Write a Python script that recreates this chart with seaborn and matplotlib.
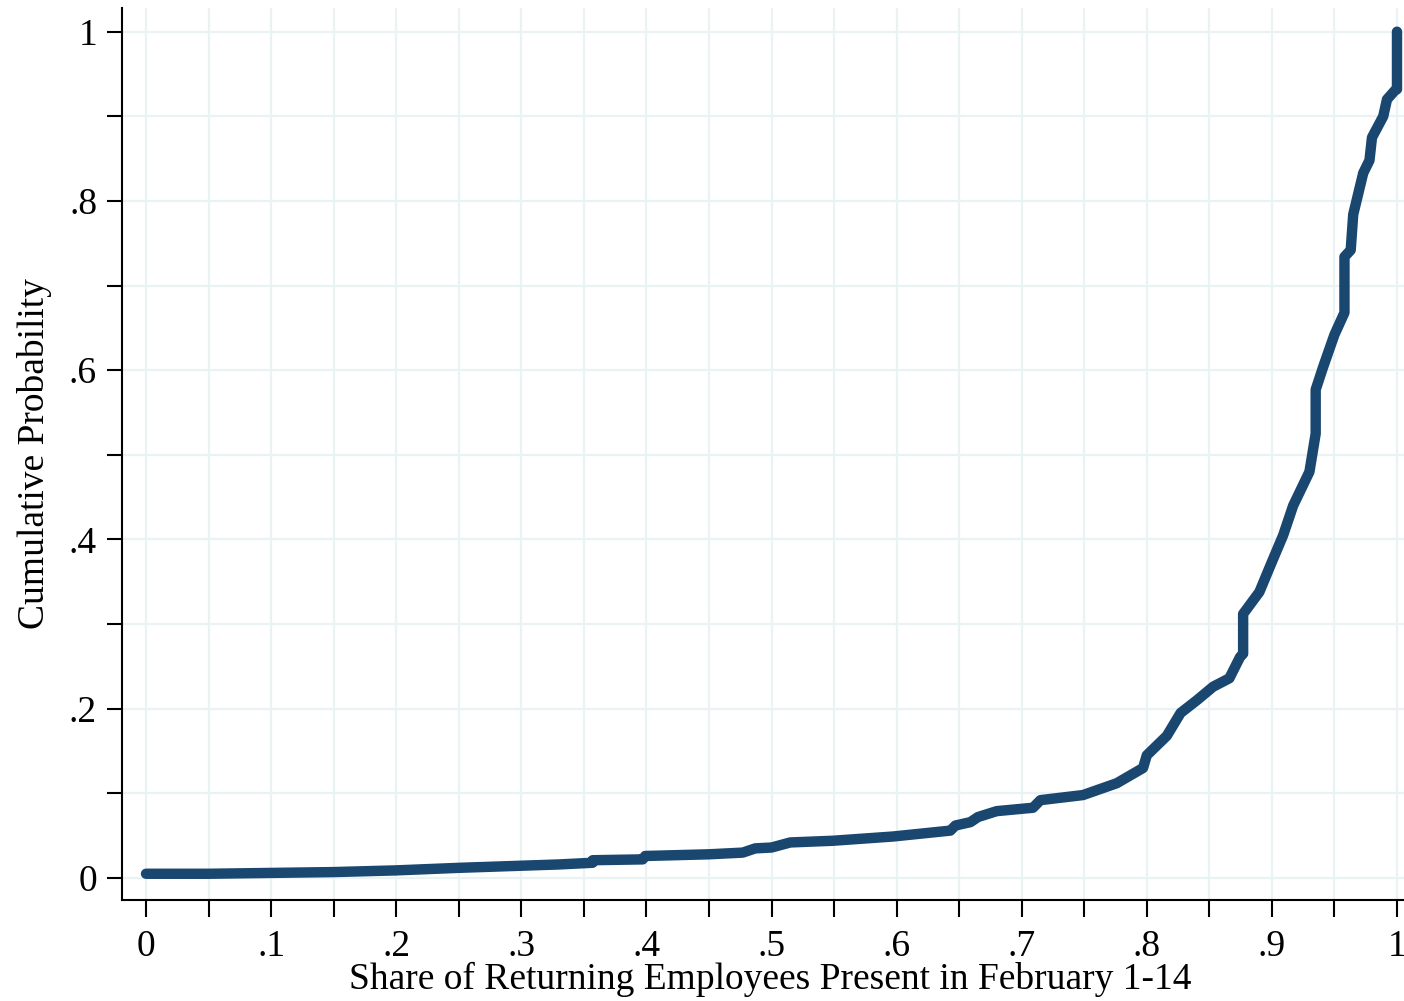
import numpy as np
import pandas as pd
import matplotlib
matplotlib.use("Agg")
import matplotlib.pyplot as plt
import seaborn as sns

share = [0.0, 0.05, 0.10, 0.15, 0.20, 0.25, 0.33, 0.357, 0.357, 0.397, 0.399,
         0.45, 0.477, 0.487, 0.50, 0.515, 0.549, 0.597, 0.643, 0.647, 0.659,
         0.665, 0.680, 0.709, 0.715, 0.749, 0.776, 0.797, 0.800, 0.816, 0.827,
         0.840, 0.853, 0.866, 0.8745, 0.877, 0.877, 0.890, 0.899, 0.909, 0.917,
         0.930, 0.935, 0.935, 0.941, 0.950, 0.958, 0.958, 0.963, 0.965, 0.973,
         0.978, 0.980, 0.989, 0.992, 0.998, 1.0, 1.0]
cum_prob = [0.005, 0.005, 0.006, 0.007, 0.009, 0.012, 0.016, 0.018, 0.021, 0.022, 0.026,
            0.028, 0.030, 0.035, 0.036, 0.042, 0.044, 0.049, 0.056, 0.062, 0.066,
            0.072, 0.079, 0.083, 0.092, 0.098, 0.112, 0.130, 0.145, 0.168, 0.195,
            0.210, 0.226, 0.236, 0.261, 0.265, 0.312, 0.338, 0.370, 0.405, 0.440,
            0.480, 0.525, 0.577, 0.604, 0.642, 0.668, 0.734, 0.742, 0.784, 0.833,
            0.848, 0.875, 0.900, 0.920, 0.930, 0.932, 1.0]

x_ticks = np.round(np.arange(0, 1.0001, 0.05), 2)
x_labels = ["0", "", ".1", "", ".2", "", ".3", "", ".4", "", ".5", "", ".6", "",
            ".7", "", ".8", "", ".9", "", "1"]
y_ticks = np.round(np.arange(0, 1.0001, 0.1), 1)
y_labels = ["0", "", ".2", "", ".4", "", ".6", "", ".8", "", "1"]

df = pd.DataFrame({"share": share, "cum_prob": cum_prob})

sns.set_style("white")
plt.rcParams["font.family"] = ["Liberation Serif", "DejaVu Serif"]
plt.rcParams["text.color"] = "black"
plt.rcParams["axes.labelcolor"] = "black"
plt.rcParams["xtick.color"] = "black"
plt.rcParams["ytick.color"] = "black"

fig = plt.figure(figsize=(14.04, 10.01), dpi=100)
ax = fig.add_axes([0.0869, 0.1009, 0.9131, 0.8911])

sns.lineplot(data=df, x="share", y="cum_prob", sort=False, estimator=None,
             color="#1a476f", linewidth=7.5, solid_capstyle="round",
             solid_joinstyle="round", ax=ax)

ax.set_xlim(-0.0192, 1.0056)
ax.set_ylim(-0.026, 1.028)
ax.set_xticks(x_ticks)
ax.set_xticklabels(x_labels)
ax.set_yticks(y_ticks)
ax.set_yticklabels(y_labels)

ax.grid(True, color="#eaf2f3", linewidth=1.6)
ax.set_axisbelow(True)
for side in ["top", "right"]:
    ax.spines[side].set_visible(False)
for side in ["left", "bottom"]:
    ax.spines[side].set_color("black")
    ax.spines[side].set_linewidth(1.5)

ax.tick_params(axis="x", direction="out", length=12, width=1.5, pad=9,
               labelsize=27, bottom=True)
ax.tick_params(axis="y", direction="out", length=11, width=1.5, pad=7,
               labelsize=27, left=True)

ax.set_xlabel("Share of Returning Employees Present in February 1-14",
              fontsize=27, labelpad=0)
ax.xaxis.set_label_coords(0.506, -0.069)
ax.set_ylabel("Cumulative Probability", fontsize=27, labelpad=12)

fig.savefig("out.png", dpi=100)
